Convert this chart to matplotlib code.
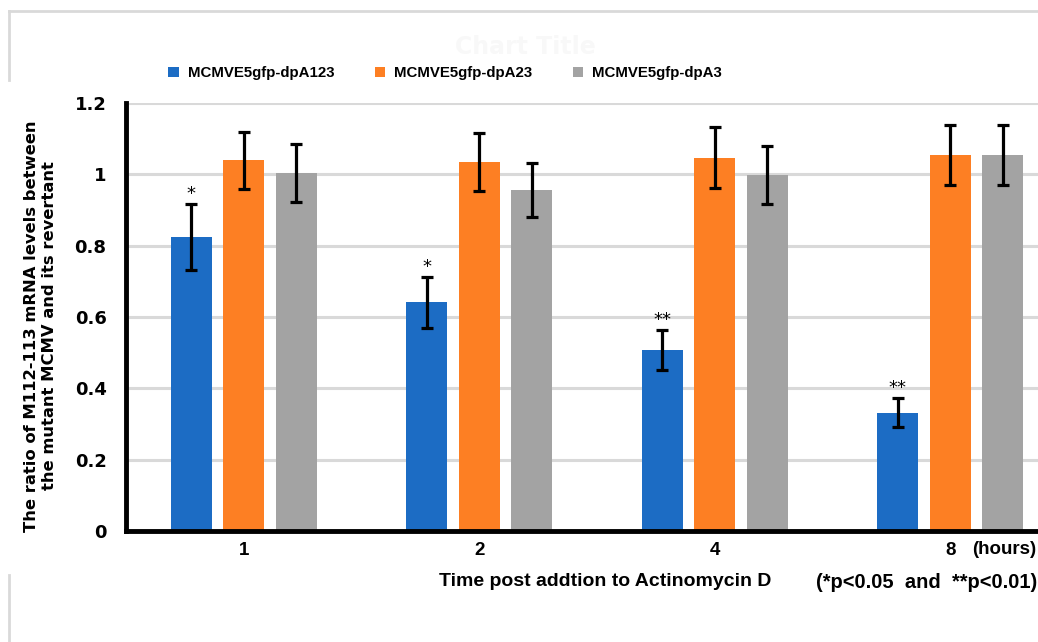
#!/usr/bin/env python3
import numpy as np
import matplotlib
matplotlib.use('Agg')
import matplotlib.pyplot as plt
from matplotlib.lines import Line2D

times = ['1', '2', '4', '8']
series = ['MCMVE5gfp-dpA123', 'MCMVE5gfp-dpA23', 'MCMVE5gfp-dpA3']
dpA123 = [0.825, 0.641, 0.507, 0.332]
dpA123_err = [0.092, 0.071, 0.056, 0.040]
dpA23 = [1.040, 1.034, 1.047, 1.054]
dpA23_err = [0.080, 0.081, 0.085, 0.084]
dpA3 = [1.004, 0.956, 0.998, 1.054]
dpA3_err = [0.081, 0.077, 0.081, 0.084]
stars = ['*', '*', '**', '**']

colors = ['#1c6cc4', '#fd7f23', '#a3a3a3']
W, H = 1038, 642


def main():
    fig = plt.figure(figsize=(W / 100, H / 100), dpi=100)

    # leftover frame of the original chart area
    gray = '#d9d9d9'
    fig.add_artist(Line2D([9 / W, 1], [1 - 11 / H, 1 - 11 / H], color=gray, lw=2))
    fig.add_artist(Line2D([9 / W, 9 / W], [1 - 11 / H, 1 - 80 / H], color=gray, lw=2))
    fig.add_artist(Line2D([9 / W, 9 / W], [1 - 575 / H, 0], color=gray, lw=2))
    fig.text(525 / W, 1 - 47 / H, 'Chart Title', ha='center', va='center',
             fontsize=17, fontweight='bold', color='#f8f8f8')

    ax = fig.add_axes([126 / W, 1 - 531 / H, 942 / W, 428 / H])
    x = np.arange(len(times))
    step, width = 0.223, 0.174
    data = [(dpA123, dpA123_err), (dpA23, dpA23_err), (dpA3, dpA3_err)]
    bars = []
    for i, (vals, errs) in enumerate(data):
        b = ax.bar(x + (i - 1) * step, vals, width, color=colors[i], zorder=2,
                   label=series[i])
        ax.errorbar(x + (i - 1) * step, vals, yerr=errs, fmt='none', ecolor='black',
                    elinewidth=2.3, capsize=4.5, capthick=2.3, zorder=3)
        bars.append(b)

    for xi, v, e, s in zip(x - step, dpA123, dpA123_err, stars):
        ax.annotate(s, (xi, v + e), xytext=(0, 1), textcoords='offset points',
                    ha='center', va='bottom', fontsize=13)

    ax.set_xlim(-0.5, 3.5)
    ax.set_ylim(0, 1.2)
    ax.set_yticks([0, 0.2, 0.4, 0.6, 0.8, 1.0, 1.2])
    ax.set_yticklabels(['0', '0.2', '0.4', '0.6', '0.8', '1', '1.2'])
    ax.set_xticks(x)
    ax.set_xticklabels(times)
    ax.yaxis.grid(True, color='#d9d9d9', lw=2.2, zorder=0)
    ax.set_axisbelow(True)
    for sp in ['top', 'right']:
        ax.spines[sp].set_visible(False)
    ax.spines['left'].set_linewidth(3.5)
    ax.spines['bottom'].set_linewidth(3.5)
    ax.tick_params(axis='y', length=0, pad=14)
    ax.tick_params(axis='x', length=0, pad=8)
    for t in ax.get_yticklabels():
        t.set_fontfamily('DejaVu Sans')
        t.set_fontweight('bold')
        t.set_fontsize(13)
    for t in ax.get_xticklabels():
        t.set_fontfamily('Liberation Sans')
        t.set_fontweight('bold')
        t.set_fontsize(13.5)

    fig.text(41 / W, 1 - 326 / H,
             'The ratio of M112-113 mRNA levels between\nthe mutant MCMV and its revertant',
             rotation=90, ha='center', va='center', fontsize=11.8,
             fontweight='bold', family='DejaVu Sans', linespacing=1.25)

    tx = dict(family='Liberation Sans', fontweight='bold', va='center')
    fig.text(972 / W, 1 - 550 / H, '(hours)', ha='left', fontsize=13.5, **tx)
    fig.text(605 / W, 1 - 582 / H, 'Time post addtion to Actinomycin D', ha='center',
             fontsize=14, **tx)
    fig.text(1037 / W, 1 - 582 / H, '(*p<0.05  and  **p<0.01)', ha='right',
             fontsize=14.5, **tx)

    fig.legend(handles=bars, labels=series, loc='center', ncol=3,
               bbox_to_anchor=(445 / W, 1 - 73 / H), frameon=False,
               handlelength=0.7, handleheight=0.7, handletextpad=0.6,
               columnspacing=2.7, prop={'family': 'Liberation Sans',
                                        'weight': 'bold', 'size': 10.8})

    fig.savefig('out.png', dpi=100)
    plt.close(fig)


if __name__ == '__main__':
    main()
